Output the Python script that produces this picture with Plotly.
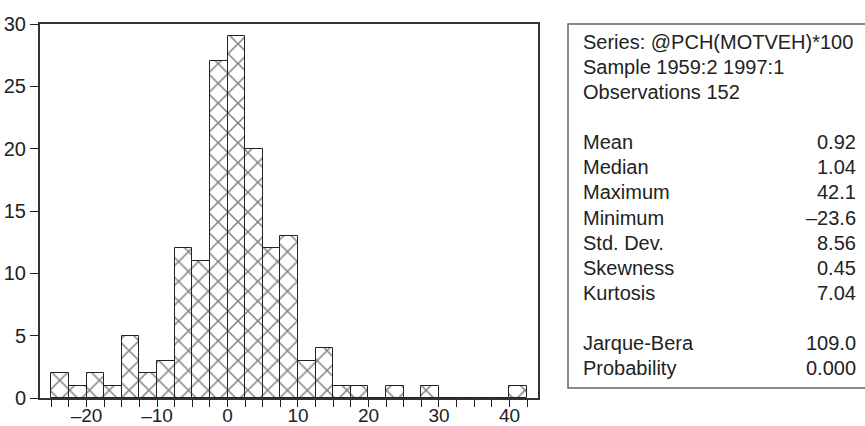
import plotly.graph_objects as go

# Histogram data: bin left edges (width 2.5) and counts
bin_left = [-25, -22.5, -20, -17.5, -15, -12.5, -10, -7.5, -5, -2.5, 0, 2.5, 5, 7.5,
            10, 12.5, 15, 17.5, 20, 22.5, 25, 27.5, 30, 32.5, 35, 37.5, 40]
counts = [2, 1, 2, 1, 5, 2, 3, 12, 11, 27, 29, 20, 12, 13,
          3, 4, 1, 1, 0, 1, 0, 1, 0, 0, 0, 0, 1]
bin_width = 2.5

x_ticks = [-20, -10, 0, 10, 20, 30, 40]
y_ticks = [0, 5, 10, 15, 20, 25, 30]

header_lines = ["Series: @PCH(MOTVEH)*100", "Sample 1959:2 1997:1", "Observations 152"]
stat_names = ["Mean", "Median", "Maximum", "Minimum", "Std. Dev.", "Skewness", "Kurtosis"]
stat_values = ["0.92", "1.04", "42.1", "\u201323.6", "8.56", "0.45", "7.04"]
test_names = ["Jarque-Bera", "Probability"]
test_values = ["109.0", "0.000"]

FONT = "Liberation Sans, Arial, Helvetica, sans-serif"
INK = "#222222"
FS = 20

W, H = 865, 426
L, R, T, B = 40, 538, 24, 398  # plot area in pixels


def px_x(px):
    return (px - L) / (R - L)


def px_y(py):
    return (B - py) / (B - T)


fig = go.Figure()
fig.add_trace(go.Bar(
    x=bin_left,
    y=counts,
    width=bin_width,
    offset=0,
    marker=dict(
        color="white",
        line=dict(color=INK, width=1),
        pattern=dict(shape="x", fgcolor="#000000", bgcolor="white", size=14, solidity=0.2),
    ),
    hoverinfo="x+y",
    showlegend=False,
))

fig.update_layout(
    width=W, height=H,
    margin=dict(l=L, r=W - R, t=T, b=H - B, pad=0, autoexpand=False),
    paper_bgcolor="white",
    plot_bgcolor="white",
    bargap=0,
    font=dict(family=FONT, size=FS, color=INK),
    xaxis=dict(
        range=[-26.6, 44.05],
        automargin=False,
        tickmode="array", tickvals=x_ticks,
        ticktext=["\u2013" + str(-v) if v < 0 else str(v) for v in x_ticks],
        ticks="outside", ticklen=7, tickwidth=1, tickcolor=INK,
        ticklabelstandoff=-8,
        minor=dict(tickmode="linear", tick0=0, dtick=bin_width, ticks="outside", ticklen=7,
                   tickwidth=1, tickcolor=INK, showgrid=False),
        showline=True, linewidth=2, linecolor="#333333", mirror=True,
        showgrid=False, zeroline=False,
        tickfont=dict(size=19, family=FONT, color=INK),
    ),
    yaxis=dict(
        range=[0, 30],
        automargin=False,
        tickmode="array", tickvals=y_ticks,
        ticks="outside", ticklen=8, tickwidth=1, tickcolor=INK,
        showline=True, linewidth=2, linecolor="#333333", mirror=True,
        showgrid=False, zeroline=False,
        tickfont=dict(size=FS, family=FONT, color=INK),
    ),
)

# Statistics box
fig.add_shape(type="rect", xref="paper", yref="paper",
              x0=px_x(568), x1=px_x(880), y0=px_y(388), y1=px_y(24),
              line=dict(color="#666666", width=1.5), fillcolor="rgba(0,0,0,0)", layer="above")

line_h = 25.08
y0 = 42
tx = px_x(581)
vx = px_x(858)


def add_text(txt, i, xpos, anchor):
    fig.add_annotation(xref="paper", yref="paper", x=xpos, y=px_y(y0 + line_h * i),
                       text=txt, showarrow=False, xanchor=anchor, yanchor="middle",
                       font=dict(family=FONT, size=FS, color=INK))


for i, t in enumerate(header_lines):
    add_text(t, i, tx, "left")
for j, (n, v) in enumerate(zip(stat_names, stat_values)):
    add_text(n, 4 + j, tx, "left")
    add_text(v, 4 + j, vx, "right")
for j, (n, v) in enumerate(zip(test_names, test_values)):
    add_text(n, 12 + j, tx, "left")
    add_text(v, 12 + j, vx, "right")

fig.write_html(
    "out.html",
    config={"displayModeBar": False},
    post_script="document.body.style.margin='0';document.body.style.overflow='hidden';",
)
